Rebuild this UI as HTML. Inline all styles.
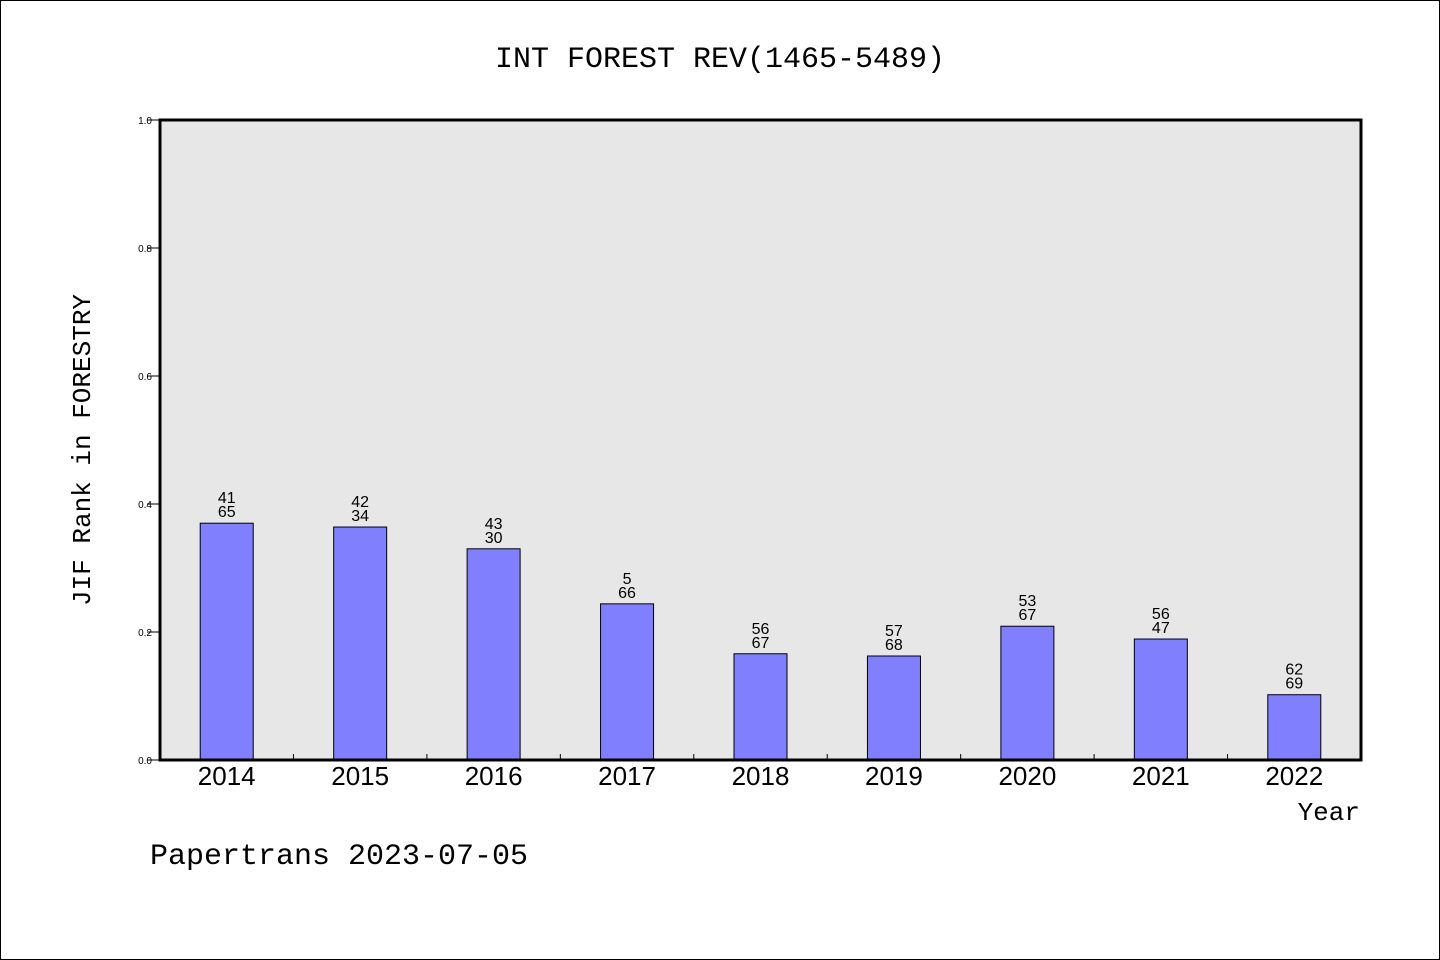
<!DOCTYPE html>
<html><head><meta charset="utf-8"><style>
html,body{margin:0;padding:0;background:#fff}
svg{display:block}
text{font-family:"Liberation Sans","WenQuanYi Zen Hei",sans-serif}
.mono{font-family:"WenQuanYi Zen Hei","Liberation Mono",monospace}
</style></head><body>
<svg id="chart" width="1440" height="960">
<rect x="0.5" y="0.5" width="1439" height="959" fill="#fff" stroke="#000"/>
<text class="mono" x="720" y="67" font-size="30" text-anchor="middle">INT FOREST REV(1465-5489)</text>
<rect x="160" y="120" width="1201" height="640" fill="#e7e7e7"/>
<g id="marks"></g>
<rect x="160" y="120" width="1201" height="640" fill="none" stroke="#000" stroke-width="3"/>
<text class="mono" x="90" y="450" font-size="26" text-anchor="middle" transform="rotate(-90 90 450)">JIF Rank in FORESTRY</text>
<text class="mono" x="1360" y="820" font-size="26" text-anchor="end">Year</text>
<text class="mono" x="150" y="864" font-size="30">Papertrans 2023-07-05</text>
</svg>
<script>
const categories=["2014","2015","2016","2017","2018","2019","2020","2021","2022"];
const values=[0.370,0.364,0.330,0.244,0.166,0.1625,0.209,0.189,0.102];
const topLabels=["41","42","43","5","56","57","53","56","62"];
const bottomLabels=["65","34","30","66","67","68","67","47","69"];
const yTicks=[0,0.2,0.4,0.6,0.8,1.0];
const X0=160,X1=1361,Y0=760,Y1=120;
const NS="http://www.w3.org/2000/svg";
const g=document.getElementById('marks');
const slot=(X1-X0)/categories.length;
const x=i=>X0+slot*(i+0.5);
const y=v=>Y0-(Y0-Y1)*v;
function mk(t,a){const e=document.createElementNS(NS,t);for(const k in a)e.setAttribute(k,a[k]);g.appendChild(e);return e;}
yTicks.forEach(v=>{
 const l=mk('line',{x1:147,x2:160,y1:y(v),y2:y(v),stroke:'#000'});
 
 
 const t=mk('text',{x:152,y:y(v)+4,'font-size':10,'text-anchor':'end'});
 t.textContent=v.toFixed(1);
 
 
});
categories.forEach((c,i)=>{
 if(i>0){const tk=mk('line',{x1:X0+slot*i,x2:X0+slot*i,y1:Y0,y2:Y0-6,stroke:'#000'});
 
 }
 const b=mk('rect',{x:x(i)-26.5,y:y(values[i]),width:53,height:Y0-y(values[i]),fill:'#8080ff',stroke:'#000','stroke-width':1});
 
 
 const t1=mk('text',{x:x(i),y:y(values[i])-20,'font-size':16,'text-anchor':'middle'});
 t1.textContent=topLabels[i];
 
 
 const t2=mk('text',{x:x(i),y:y(values[i])-6,'font-size':16,'text-anchor':'middle'});
 t2.textContent=bottomLabels[i];
 
 
 const xl=mk('text',{x:x(i),y:785,'font-size':26,'text-anchor':'middle'});
 xl.textContent=c;
 
 
});
</script>
</body></html>
